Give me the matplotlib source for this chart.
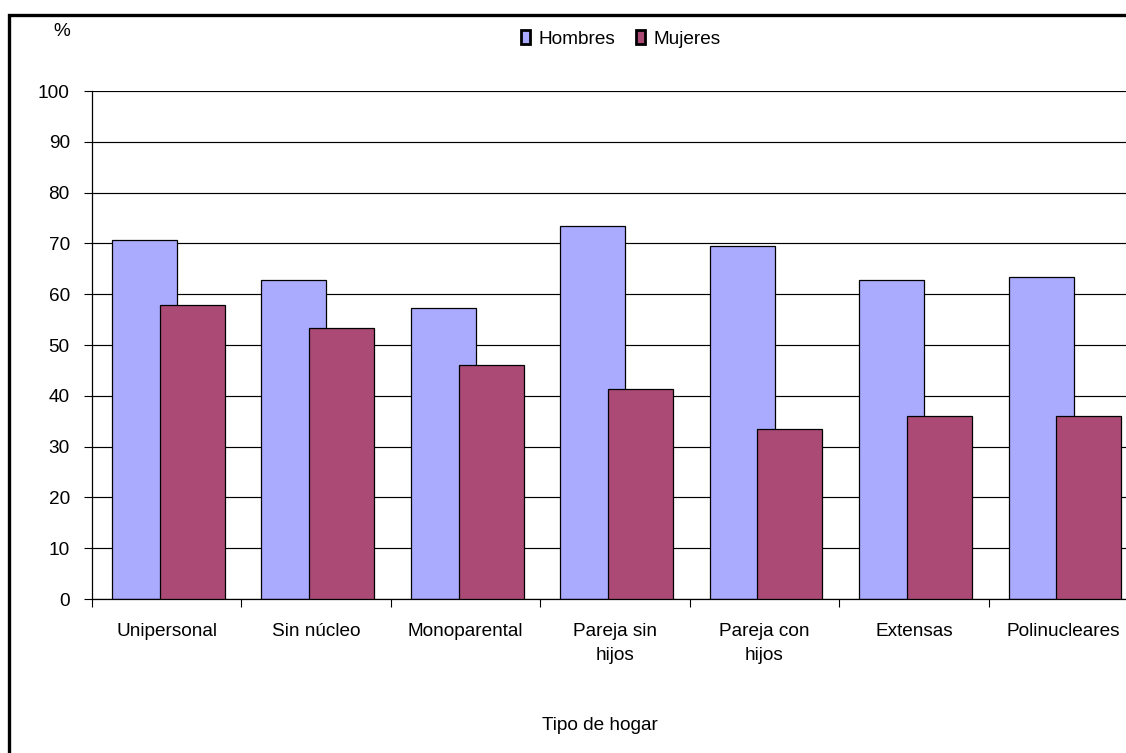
import matplotlib
matplotlib.use("Agg")
import matplotlib.pyplot as plt
from matplotlib.patches import Patch, Rectangle
import numpy as np

plt.rcParams['font.family'] = ['Liberation Sans', 'DejaVu Sans']

categories = ["Unipersonal", "Sin núcleo", "Monoparental", "Pareja sin\nhijos",
              "Pareja con\nhijos", "Extensas", "Polinucleares"]
hombres = [70.6, 62.7, 57.3, 73.4, 69.4, 62.7, 63.3]
mujeres = [57.9, 53.3, 46.1, 41.3, 33.4, 36.1, 36.1]
yticks = list(range(0, 101, 10))

W, H = 1126, 753
FS = 13.7
fig = plt.figure(figsize=(W / 100, H / 100), dpi=100)
fig.patch.set_facecolor("white")

# plot area (runs slightly past the right edge of the canvas)
x0, x1, y0, y1 = 92, 1138, 599, 91
ax = fig.add_axes([x0 / W, 1 - y0 / H, (x1 - x0) / W, (y0 - y1) / H])

col_h = "#AAAAFF"
col_m = "#AA4A75"
x = np.arange(len(categories))
bw = 0.435

ax.set_axisbelow(True)
ax.yaxis.grid(True, color="black", linewidth=0.85)
ax.bar(x - 0.149, hombres, width=bw, color=col_h, edgecolor="black", linewidth=0.9, zorder=2)
ax.bar(x + 0.171, mujeres, width=bw, color=col_m, edgecolor="black", linewidth=0.9, zorder=3)

ax.set_xlim(-0.5, len(categories) - 0.5)
ax.set_ylim(0, 100)
ax.set_yticks(yticks)
ax.set_yticklabels([str(t) for t in yticks])
ax.set_xticks(np.arange(len(categories) + 1) - 0.5, minor=False)
ax.set_xticklabels([])
ax.set_xticks(x, minor=True)
ax.set_xticklabels(categories, minor=True, linespacing=1.5)
ax.tick_params(axis="x", which="minor", length=0, pad=17.5, labelsize=FS)
ax.tick_params(axis="x", which="major", length=6, width=0.8, direction="out")
ax.tick_params(axis="y", length=6, width=0.8, direction="out", pad=10, labelsize=FS)

for s in ("top", "right"):
    ax.spines[s].set_visible(False)
for s in ("left", "bottom"):
    ax.spines[s].set_linewidth(0.9)
    ax.spines[s].set_color("black")

handles = [Patch(facecolor=col_h, edgecolor="black", linewidth=2.0, label="Hombres"),
           Patch(facecolor=col_m, edgecolor="black", linewidth=2.0, label="Mujeres")]
fig.legend(handles=handles, loc="center", bbox_to_anchor=(621 / W, 1 - 39 / H), ncol=2,
           frameon=False, fontsize=FS, handlelength=0.45, handleheight=0.75,
           handletextpad=0.45, columnspacing=1.1)

fig.text(62 / W, 1 - 32 / H, "%", ha="center", va="center", fontsize=FS)
fig.text(600 / W, 1 - 725 / H, "Tipo de hogar", ha="center", va="center", fontsize=FS)

# outer chart border (open to the right and bottom)
fig.add_artist(Rectangle((8.5 / W, -20 / H), (W + 40) / W, (H + 20 - 15) / H,
                         transform=fig.transFigure, fill=False, edgecolor="black",
                         linewidth=2.4, clip_on=False))

fig.savefig("out.png", dpi=100)
